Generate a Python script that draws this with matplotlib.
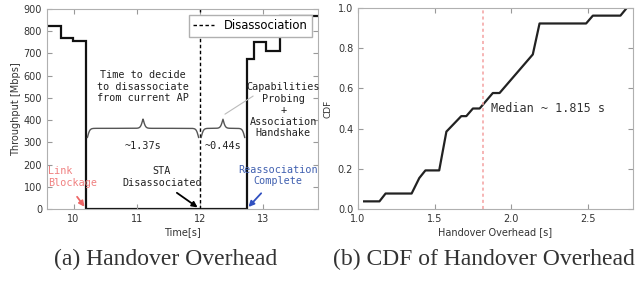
#!/usr/bin/env python3
"""Handover overhead: throughput trace (a) and CDF of handover overhead (b)."""
import numpy as np
import matplotlib
matplotlib.use("Agg")
import matplotlib.pyplot as plt

# ---------------------------------------------------------------- data
# (a) throughput step trace
t_edges = [9.58, 9.795, 9.99, 10.2, 12.74, 12.86, 13.04, 13.27, 13.87]
throughput = [825, 770, 755, 0, 675, 750, 710, 870]
t_block = 10.2        # link blockage
t_disassoc = 12.0     # STA disassociated
t_reassoc = 12.74     # reassociation complete
decide_label = "~1.37s"
assoc_label = "~0.44s"

# (b) CDF of handover overhead
overhead = [1.04, 1.14, 1.18, 1.35, 1.40, 1.44, 1.53, 1.577, 1.674, 1.707,
            1.75, 1.794, 1.88, 1.924, 2.141, 2.185, 2.489, 2.533, 2.713, 2.754]
cdf = [0.038, 0.038, 0.077, 0.077, 0.154, 0.192, 0.192, 0.385, 0.462, 0.462,
       0.500, 0.500, 0.577, 0.577, 0.769, 0.923, 0.923, 0.962, 0.962, 1.0]
median = 1.815

W, H = 643, 282
GRAY = "#b0b0b0"
TXT = "#333333"
MONO = "DejaVu Sans Mono"

plt.rcParams.update({
    "font.family": "DejaVu Sans",
    "font.size": 7,
    "xtick.direction": "in", "ytick.direction": "in",
    "xtick.top": True, "ytick.right": True,
    "xtick.color": "#999999", "ytick.color": "#999999",
    "xtick.labelcolor": TXT, "ytick.labelcolor": TXT,
    "xtick.labelsize": 7, "ytick.labelsize": 7,
    "axes.edgecolor": GRAY, "axes.labelcolor": TXT,
})


def px_axes(fig, x0, y0, x1, y1):
    return fig.add_axes([x0 / W, 1 - y1 / H, (x1 - x0) / W, (y1 - y0) / H])


def brace(ax, x0, x1, y0, h, beta):
    n = 200
    xs = np.linspace(x0, x1, 2 * n)
    xh = xs[:n]
    yh = (1 / (1 + np.exp(-beta * (xh - xh[0])))
          + 1 / (1 + np.exp(-beta * (xh - xh[-1]))))
    yy = np.concatenate([yh, yh[::-1]])
    ax.plot(xs, y0 + (yy - 0.5) * h, color="#555555", lw=1.0)


fig = plt.figure(figsize=(W / 100, H / 100), dpi=100)

# ---------------------------------------------------------------- (a)
ax = px_axes(fig, 47, 9, 318, 209)
ax.stairs(throughput, t_edges, color="#111111", lw=1.6, baseline=None)
ax.axvline(t_disassoc, color="black", ls=(0, (2.5, 1.8)), lw=1.0,
           label="Disassociation")
ax.set_xlim(t_edges[0], t_edges[-1])
ax.set_ylim(0, 900)
ax.set_xticks([10, 11, 12, 13])
ax.set_yticks(range(0, 901, 100))
ax.set_xlabel("Time[s]", fontsize=7, labelpad=2)
ax.set_ylabel("Throughput [Mbps]", fontsize=7, labelpad=2)
leg = ax.legend(loc="upper right", fontsize=8.4, fancybox=False,
                borderaxespad=0.5, handlelength=1.8, framealpha=1)
leg.get_frame().set_edgecolor(GRAY)

ax.text(11.1, 550, "Time to decide\nto disassociate\nfrom current AP",
        family=MONO, fontsize=7.3, ha="center", va="center", color="#222222")
brace(ax, t_block + 0.02, t_disassoc - 0.02, 322, 82, 55)
brace(ax, t_disassoc + 0.02, t_reassoc - 0.03, 322, 82, 55)
ax.text((t_block + t_disassoc) / 2, 305, decide_label, family=MONO,
        fontsize=7.3, ha="center", va="top", color="#222222")
ax.text((t_disassoc + t_reassoc) / 2, 305, assoc_label, family=MONO,
        fontsize=7.3, ha="center", va="top", color="#222222")
ax.text(13.32, 445, "Capabilities\nProbing\n+\nAssociation\nHandshake",
        family=MONO, fontsize=7.3, ha="center", va="center", color="#222222")
ax.annotate("", xy=(12.36, 420), xytext=(12.88, 515),
            arrowprops=dict(arrowstyle="-", color="#bbbbbb", lw=0.8))

ax.text(9.59, 145, "Link\nBlockage", family=MONO, fontsize=7.3,
        ha="left", va="center", color="#f08080")
ax.annotate("", xy=(t_block, 0), xytext=(10.03, 65),
            arrowprops=dict(arrowstyle="-|>", color="#ee6666", lw=1.3,
                            mutation_scale=8))
ax.text(11.4, 145, "STA\nDisassociated", family=MONO, fontsize=7.3,
        ha="center", va="center", color="#222222")
ax.annotate("", xy=(t_disassoc, 0), xytext=(11.6, 80),
            arrowprops=dict(arrowstyle="-|>", color="black", lw=1.3,
                            mutation_scale=8))
ax.text(13.24, 150, "Reassociation\nComplete", family=MONO, fontsize=7.3,
        ha="center", va="center", color="#4060b0")
ax.annotate("", xy=(t_reassoc, 0), xytext=(13.0, 80),
            arrowprops=dict(arrowstyle="-|>", color="#3050c0", lw=1.3,
                            mutation_scale=8))

# ---------------------------------------------------------------- (b)
bx = px_axes(fig, 358, 8, 633, 209)
bx.plot(overhead, cdf, color="#222222", lw=1.6)
bx.axvline(median, color="#f4a0a0", ls=(0, (2, 2)), lw=1.1)
bx.set_xlim(1.0, 2.795)
bx.set_ylim(0, 1)
bx.set_xticks([1.0, 1.5, 2.0, 2.5])
bx.set_yticks(np.arange(0, 1.01, 0.2))
bx.set_xlabel("Handover Overhead [s]", fontsize=7, labelpad=2)
bx.set_ylabel("CDF", fontsize=6.5, labelpad=4)
bx.text(1.87, 0.50, f"Median ~ {median} s", family=MONO, fontsize=8.5,
        ha="left", va="center", color="#333333")

# ---------------------------------------------------------------- captions
cap = dict(family="Liberation Serif", fontsize=17, color="#333333",
           ha="center", va="center")
fig.text(166 / W, 1 - 259 / H, "(a) Handover Overhead", **cap)
fig.text(484 / W, 1 - 259 / H, "(b) CDF of Handover Overhead", **cap)

fig.savefig("out.png", dpi=100)
